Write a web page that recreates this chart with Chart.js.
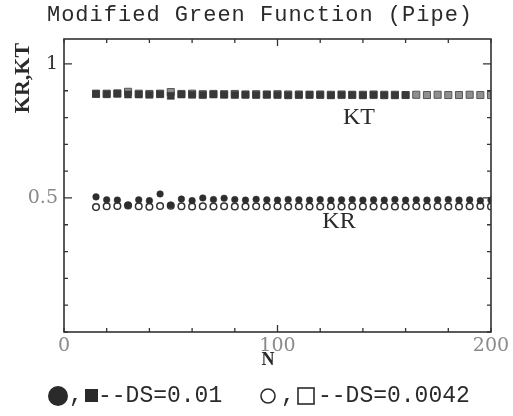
<!DOCTYPE html>
<html>
<head>
<meta charset="utf-8">
<script src="https://cdn.jsdelivr.net/npm/chart.js@4.4.1/dist/chart.umd.min.js"></script>
<style>
  html, body { margin: 0; padding: 0; background: #fff; }
  canvas { display: block; }
</style>
</head>
<body>
<canvas id="myChart" width="513" height="416"></canvas>
<script>
// N values (x)
let nVals = [15, 20, 25, 30, 35, 40, 45, 50, 55, 60, 65, 70, 75, 80, 85, 90, 95, 100, 105,
  110, 115, 120, 125, 130, 135, 140, 145, 150, 155, 160, 165, 170, 175, 180, 185, 190, 195, 200];

// KT, DS=0.01 (filled squares, up to N=160)
let ktFilled = [0.888, 0.887, 0.889, 0.886, 0.886, 0.885, 0.887, 0.881, 0.886, 0.885,
  0.884, 0.886, 0.885, 0.884, 0.885, 0.884, 0.885, 0.884, 0.883, 0.884,
  0.885, 0.884, 0.883, 0.884, 0.884, 0.883, 0.884, 0.883, 0.883, 0.884];
// KT, DS=0.0042 (open squares)
let ktOpen = [0.889, 0.889, 0.890, 0.896, 0.889, 0.888, 0.889, 0.895, 0.888, 0.889,
  0.887, 0.888, 0.887, 0.888, 0.886, 0.887, 0.886, 0.887, 0.886, 0.886,
  0.885, 0.886, 0.885, 0.886, 0.885, 0.885, 0.886, 0.885, 0.885, 0.884,
  0.885, 0.884, 0.885, 0.884, 0.884, 0.885, 0.884, 0.884];
// KR, DS=0.01 (filled circles)
let krFilled = [0.504, 0.493, 0.492, 0.474, 0.493, 0.490, 0.515, 0.474, 0.496, 0.490,
  0.500, 0.494, 0.499, 0.494, 0.492, 0.495, 0.493, 0.492, 0.494, 0.493,
  0.492, 0.494, 0.492, 0.493, 0.494, 0.492, 0.493, 0.492, 0.494, 0.492,
  0.493, 0.492, 0.493, 0.494, 0.492, 0.493, 0.490, 0.492];
// KR, DS=0.0042 (open circles)
let krOpen = [0.466, 0.469, 0.470, 0.472, 0.469, 0.467, 0.470, 0.471, 0.469, 0.468,
  0.469, 0.468, 0.469, 0.468, 0.468, 0.469, 0.468, 0.469, 0.468, 0.469,
  0.468, 0.468, 0.469, 0.468, 0.469, 0.468, 0.468, 0.469, 0.468, 0.468,
  0.469, 0.468, 0.469, 0.468, 0.468, 0.469, 0.470, 0.468];

let xLabelTicks = [0, 100, 200];
let yLabelTicks = [0.5, 1];
let xMinorTicks = [0, 20, 40, 60, 80, 100, 120, 140, 160, 180, 200];
let yMinorTicks = [0, 0.1, 0.2, 0.3, 0.4, 0.5, 0.6, 0.7, 0.8, 0.9, 1.0];

function pts(ys) {
  return ys.map((y, i) => ({ x: nVals[i], y: y }));
}

const frame = {
  id: "frame",
  afterDraw(chart) {
    const ctx = chart.ctx;
    const a = chart.chartArea;
    const xs = chart.scales.x;
    const ys = chart.scales.y;
    ctx.save();
    ctx.strokeStyle = "#333";
    ctx.lineWidth = 1.6;
    ctx.strokeRect(a.left, a.top, a.right - a.left, a.bottom - a.top);

    // inward ticks
    ctx.lineWidth = 1.3;
    ctx.beginPath();
    xMinorTicks.forEach((v) => {
      const px = xs.getPixelForValue(v);
      const len = v === 100 ? 7 : 4;
      ctx.moveTo(px, a.bottom); ctx.lineTo(px, a.bottom - len);
      ctx.moveTo(px, a.top); ctx.lineTo(px, a.top + len);
    });
    yMinorTicks.forEach((v) => {
      const py = ys.getPixelForValue(v);
      const len = (v === 0.5 || v === 1.0) ? 8 : 4;
      ctx.moveTo(a.left, py); ctx.lineTo(a.left + len, py);
      ctx.moveTo(a.right, py); ctx.lineTo(a.right - len, py);
    });
    ctx.stroke();

    // title
    ctx.fillStyle = "#2a2a2a";
    ctx.font = '22px "Liberation Mono"';
    ctx.letterSpacing = "1px";
    ctx.textAlign = "center";
    ctx.textBaseline = "middle";
    ctx.fillText("Modified Green Function (Pipe)", 260, 15);
    ctx.letterSpacing = "0px";

    // y axis title
    ctx.save();
    ctx.translate(23, 78);
    ctx.rotate(-Math.PI / 2);
    ctx.font = 'bold 22px "Liberation Serif"';
    ctx.fillText("KR,KT", 0, 0);
    ctx.restore();

    // curve labels
    ctx.font = '24px "Liberation Serif"';
    ctx.fillText("KT", 359, 118);
    ctx.fillText("KR", 339, 222);

    // x axis title
    ctx.font = 'bold 18px "Liberation Serif"';
    ctx.fillText("N", 268, 360);

    // legend line
    const ly = 396;
    ctx.fillStyle = "#2a2a2a";
    ctx.strokeStyle = "#2a2a2a";
    ctx.beginPath();
    ctx.arc(58, ly, 10, 0, Math.PI * 2);
    ctx.fill();
    ctx.fillRect(85, ly - 7, 13, 13);
    ctx.lineWidth = 1.6;
    ctx.beginPath();
    ctx.arc(268, ly, 7, 0, Math.PI * 2);
    ctx.stroke();
    ctx.strokeRect(298, ly - 8, 16, 16);
    ctx.font = '23px "Liberation Mono"';
    ctx.fillText(",", 76, ly);
    ctx.fillText(",", 288, ly);
    ctx.textAlign = "left";
    ctx.fillText("--DS=0.01", 98, ly);
    ctx.fillText("--DS=0.0042", 318, ly);
    ctx.restore();
  },
};

const data = {
  datasets: [
    {
      label: "KT DS=0.01",
      data: pts(ktFilled),
      pointStyle: "rect",
      pointRadius: 5,
      backgroundColor: "#383838",
      borderColor: "#383838",
      borderWidth: 0.5,
      order: 0,
    },
    {
      label: "KT DS=0.0042",
      data: pts(ktOpen),
      pointStyle: "rect",
      pointRadius: 5,
      backgroundColor: "#8f8f8f",
      borderColor: "#555",
      borderWidth: 1,
      order: 1,
    },
    {
      label: "KR DS=0.01",
      data: pts(krFilled),
      pointStyle: "circle",
      pointRadius: 3.3,
      backgroundColor: "#2e2e2e",
      borderColor: "#2e2e2e",
      borderWidth: 0.5,
      order: 0,
    },
    {
      label: "KR DS=0.0042",
      data: pts(krOpen),
      pointStyle: "circle",
      pointRadius: 3.3,
      backgroundColor: "#fff",
      borderColor: "#333",
      borderWidth: 1.5,
      order: 1,
    },
  ],
};

const config = {
  type: "scatter",
  data: data,
  options: {
    responsive: false,
    maintainAspectRatio: false,
    animation: false,
    devicePixelRatio: 1,
    layout: { padding: { left: 0, right: 22, top: 39, bottom: 0 } },
    plugins: {
      legend: { display: false },
      tooltip: { enabled: false },
    },
    scales: {
      x: {
        type: "linear",
        min: 0,
        max: 200,
        grid: { display: false, drawTicks: false },
        border: { display: false },
        afterBuildTicks: (s) => { s.ticks = xLabelTicks.map((v) => ({ value: v })); },
        afterFit: (s) => { s.height = 84; },
        ticks: {
          padding: 3,
          color: "#8a8a8a",
          font: { family: "DejaVu Serif", size: 19 },
          maxRotation: 0,
          autoSkip: false,
        },
      },
      y: {
        type: "linear",
        min: 0,
        max: 1.093,
        grid: { display: false, drawTicks: false },
        border: { display: false },
        afterBuildTicks: (s) => { s.ticks = yLabelTicks.map((v) => ({ value: v })); },
        afterFit: (s) => { s.width = 64; },
        ticks: {
          padding: 6,
          color: (c) => (c.tick && c.tick.value === 1 ? "#333" : "#8a8a8a"),
          font: { family: "DejaVu Serif", size: 19 },
          autoSkip: false,
          callback: (v) => (v === 1 ? "1" : v === 0.5 ? "0.5" : ""),
        },
      },
    },
  },
  plugins: [frame],
};
var myChart = new Chart(document.getElementById("myChart"), config);
</script>
</body>
</html>
